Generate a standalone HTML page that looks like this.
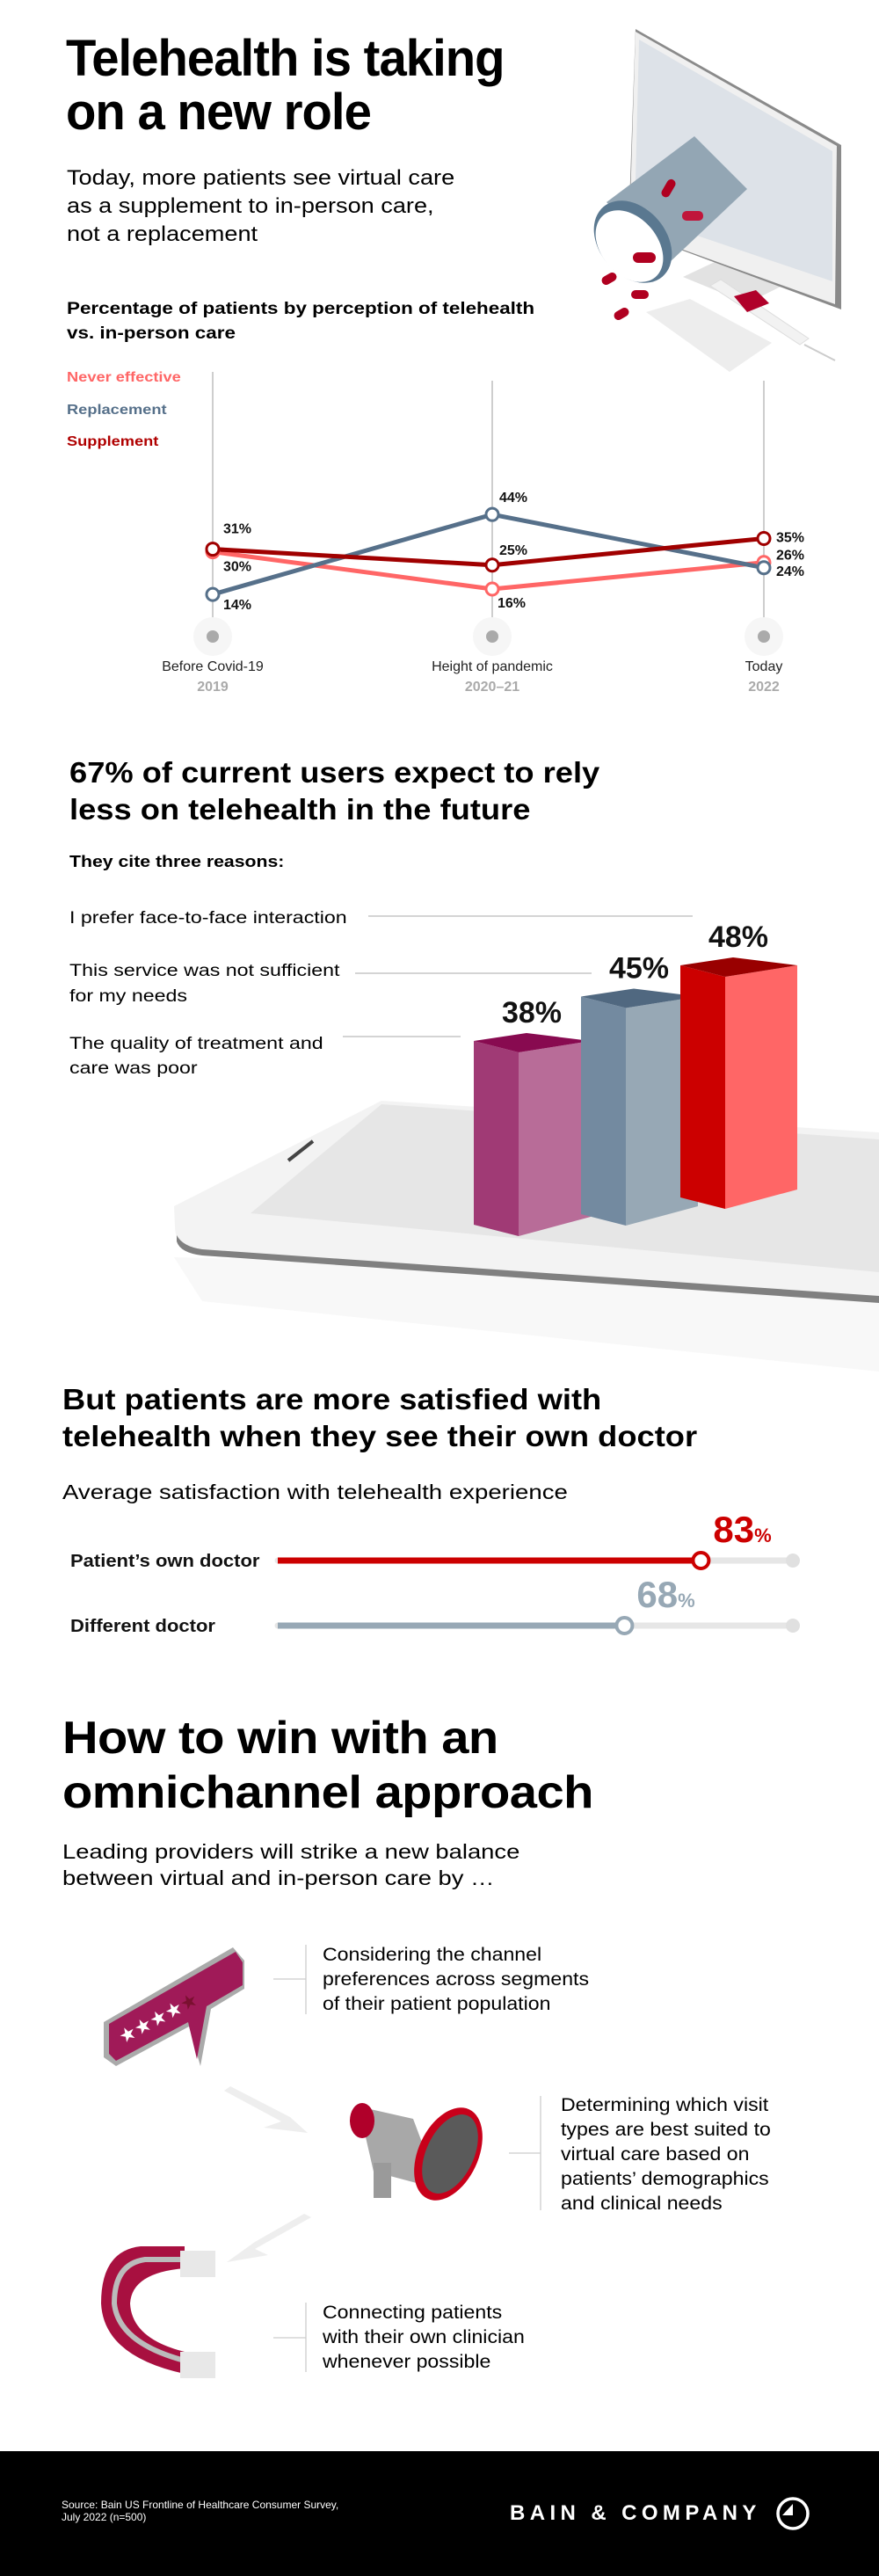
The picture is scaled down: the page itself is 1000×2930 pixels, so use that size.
<!DOCTYPE html>
<html><head><meta charset="utf-8"><style>
*{margin:0;padding:0;box-sizing:border-box}
body{width:1000px;height:2930px;position:relative;background:#fff;font-family:"Liberation Sans",sans-serif;color:#000;overflow:hidden}
.a{position:absolute;white-space:nowrap;transform-origin:0 0}
svg{position:absolute;left:0;top:0}
</style></head><body>

<svg width="1000" height="2930">
 <g>
  <polygon points="777,315 830,290 900,320 850,345" fill="#e2e2e2"/>
  <polygon points="723,33 957,165 957,352 715,262" fill="#8a8a8a"/>
  <polygon points="723,36 952,166 950,346 716,262" fill="#f0f0f0"/>
  <polygon points="727,45 947,172 947,320 722,244" fill="#dde2e8"/>
  <polygon points="690,230 790,155 850,215 760,300" fill="#93a6b4"/>
  <ellipse cx="720" cy="275" rx="38" ry="52" transform="rotate(-40 720 275)" fill="#5a7890"/>
  <ellipse cx="716" cy="280" rx="32" ry="46" transform="rotate(-40 716 280)" fill="#fff"/>
  <rect x="720" y="287" width="26" height="12" rx="6" fill="#b00020"/>
  <rect x="750" y="210" width="22" height="10" rx="5" fill="#b00020" transform="rotate(-60 760 215)"/>
  <rect x="776" y="240" width="24" height="11" rx="5" fill="#c0153a"/>
  <rect x="718" y="330" width="20" height="10" rx="5" fill="#b00020"/>
  <rect x="698" y="352" width="18" height="10" rx="5" fill="#b00020" transform="rotate(-30 707 357)"/>
  <rect x="684" y="312" width="18" height="10" rx="5" fill="#b00020" transform="rotate(-30 693 317)"/>
  <polygon points="735,355 785,340 878,390 830,423" fill="#ededed"/>
  <polygon points="808,325 820,318 920,385 910,392" fill="#f2f2f2" stroke="#ddd"/>
  <polygon points="835,337 860,330 875,345 850,355" fill="#b0002a"/>
  <line x1="915" y1="392" x2="950" y2="410" stroke="#ccc" stroke-width="2"/>
 </g>
 <g>
  <polygon points="198,1430 230,1480 1000,1560 1000,1450" fill="#f8f8f8"/>
  <path d="M434,1252 L1000,1288 L1000,1480 L230,1428 Q200,1425 199,1395 L198,1372 Z" fill="#f3f3f3"/>
  <polygon points="434,1256 1000,1296 1000,1447 285,1380" fill="#e6e6e6"/>
  <path d="M201,1412 Q205,1425 230,1428 L1000,1482 L1000,1474 L230,1421 Q208,1418 201,1405 Z" fill="#808080"/>
  <line x1="328" y1="1320" x2="356" y2="1298" stroke="#444" stroke-width="4"/>
 </g>
 <g>
  <polygon points="118,2300 265,2215 278,2230 278,2262 240,2285 228,2350 215,2305 132,2350 118,2340" fill="#aaa"/>
  <polygon points="124,2302 268,2220 276,2232 276,2258 235,2282 224,2342 214,2300 132,2344 124,2336" fill="#a01a58"/>
  <text x="140" y="2325" font-size="22" fill="#fff" transform="rotate(-28 140 2325)" font-family="DejaVu Sans">★★★★<tspan fill="#7a1030">★</tspan></text>
 </g>
 <g fill="#eeeeee">
  <polygon points="255,2378 262,2373 330,2408 350,2426 300,2420 320,2413"/>
 </g>
 <g>
  <polygon points="408,2396 470,2410 500,2490 425,2470" fill="#a8a8a8"/>
  <rect x="425" y="2460" width="20" height="40" fill="#9a9a9a"/>
  <ellipse cx="412" cy="2412" rx="14" ry="20" fill="#b0002a"/>
  <ellipse cx="510" cy="2450" rx="34" ry="56" transform="rotate(25 510 2450)" fill="#c8001a"/>
  <ellipse cx="512" cy="2450" rx="27" ry="48" transform="rotate(25 512 2450)" fill="#5a5a5a"/>
 </g>
 <g fill="#eeeeee">
  <polygon points="354,2522 346,2518 290,2550 258,2573 305,2565 290,2558"/>
 </g>
 <g>
  <path d="M210,2555 L160,2555 Q115,2560 115,2620 Q118,2680 210,2700 L210,2675 Q150,2660 148,2620 Q150,2585 210,2580 Z" fill="#a81040"/>
  <path d="M210,2570 L165,2570 Q130,2575 130,2620 Q135,2665 210,2685" fill="none" stroke="#bbb" stroke-width="6"/>
  <rect x="205" y="2560" width="40" height="30" fill="#e8e8e8"/>
  <rect x="205" y="2675" width="40" height="30" fill="#e8e8e8"/>
 </g>
 <g stroke="#ccc" stroke-width="1.3">
  <line x1="348" y1="2212" x2="348" y2="2291"/><line x1="311" y1="2251" x2="348" y2="2251"/>
  <line x1="615" y1="2384" x2="615" y2="2514"/><line x1="579" y1="2449" x2="615" y2="2449"/>
  <line x1="348" y1="2619" x2="348" y2="2698"/><line x1="311" y1="2659" x2="348" y2="2659"/>
 </g>
 <g stroke="#bbb" stroke-width="1.2">
  <line x1="419" y1="1042" x2="788" y2="1042"/>
  <line x1="404" y1="1107" x2="673" y2="1107"/>
  <line x1="390" y1="1179" x2="524" y2="1179"/>
 </g>
 <g id="line-chart"></g>
 <g id="bar-chart"></g>
 <g id="sat-chart"></g>
 <rect x="0" y="2788" width="1000" height="142" fill="#000"/>
 <circle cx="902" cy="2859" r="17" fill="none" stroke="#fff" stroke-width="3.5"/>
 <polygon points="902,2848 902,2861 890,2861" fill="#fff"/>
</svg>

<div class="a" style="left:75px;top:36px;font-size:58px;font-weight:bold;line-height:61px;letter-spacing:-1px;transform:scaleX(0.97)">Telehealth is taking<br>on a new role</div>
<div class="a" style="left:76px;top:187px;font-size:24px;line-height:32px;transform:scaleX(1.13)">Today, more patients see virtual care<br>as a supplement to in-person care,<br>not a replacement</div>
<div class="a" style="left:76px;top:337px;font-size:19.5px;font-weight:bold;line-height:28px;transform:scaleX(1.15)">Percentage of patients by perception of telehealth<br>vs. in-person care</div>
<div class="a" style="left:76px;top:421px;font-size:16px;font-weight:bold;color:#ff6666;transform:scaleX(1.14)">Never effective</div>
<div class="a" style="left:76px;top:458px;font-size:16px;font-weight:bold;color:#56708a;transform:scaleX(1.14)">Replacement</div>
<div class="a" style="left:76px;top:494px;font-size:16px;font-weight:bold;color:#b00000;transform:scaleX(1.14)">Supplement</div>

<div class="a" style="left:79px;top:858px;font-size:33px;font-weight:bold;line-height:42px;transform:scaleX(1.1)">67% of current users expect to rely<br>less on telehealth in the future</div>
<div class="a" style="left:79px;top:970px;font-size:18px;font-weight:bold;transform:scaleX(1.18)">They cite three reasons:</div>
<div class="a" style="left:79px;top:1030px;font-size:19px;line-height:29px;transform:scaleX(1.22)">I prefer face-to-face interaction</div>
<div class="a" style="left:79px;top:1090px;font-size:19px;line-height:29px;transform:scaleX(1.22)">This service was not sufficient<br>for my needs</div>
<div class="a" style="left:79px;top:1174px;font-size:19px;line-height:28px;transform:scaleX(1.22)">The quality of treatment and<br>care was poor</div>

<div class="a" style="left:71px;top:1571px;font-size:33px;font-weight:bold;line-height:42px;transform:scaleX(1.1)">But patients are more satisfied with<br>telehealth when they see their own doctor</div>
<div class="a" style="left:71px;top:1684px;font-size:23px;transform:scaleX(1.2)">Average satisfaction with telehealth experience</div>

<div class="a" style="left:71px;top:1946px;font-size:52px;font-weight:bold;line-height:62px;letter-spacing:-0.5px;transform:scaleX(1.08)">How to win with an<br>omnichannel approach</div>
<div class="a" style="left:71px;top:2091px;font-size:23px;line-height:30px;transform:scaleX(1.19)">Leading providers will strike a new balance<br>between virtual and in-person care by …</div>
<div class="a" style="left:367px;top:2210px;font-size:21px;line-height:28px;transform:scaleX(1.1)">Considering the channel<br>preferences across segments<br>of their patient population</div>
<div class="a" style="left:638px;top:2381px;font-size:21px;line-height:28px;transform:scaleX(1.1)">Determining which visit<br>types are best suited to<br>virtual care based on<br>patients’ demographics<br>and clinical needs</div>
<div class="a" style="left:367px;top:2617px;font-size:21px;line-height:28px;transform:scaleX(1.1)">Connecting patients<br>with their own clinician<br>whenever possible</div>

<div class="a" style="left:70px;top:2842px;font-size:12px;line-height:14px;color:#fff">Source: Bain US Frontline of Healthcare Consumer Survey,<br>July 2022 (n=500)</div>
<div class="a" style="left:580px;top:2845px;font-size:24px;font-weight:bold;color:#fff;letter-spacing:5.4px">BAIN &amp; COMPANY</div>

<script>
const NS="http://www.w3.org/2000/svg";
// ---- line chart data ----
const periods=["Before Covid-19","Height of pandemic","Today"];
const years=["2019","2020–21","2022"];
const neverEffective=[30,16,26];
const replacement=[14,44,24];
const supplement=[31,25,35];
// ---- bar chart data ----
const reasons=["The quality of treatment and care was poor","This service was not sufficient for my needs","I prefer face-to-face interaction"];
const reasonValues=[38,45,48];
// ---- satisfaction data ----
const satCategories=["Patient’s own doctor","Different doctor"];
const satValues=[83,68];

function mk(tag,attrs,parent){const e=document.createElementNS(NS,tag);for(const k in attrs)e.setAttribute(k,attrs[k]);parent.appendChild(e);return e;}

const lc=document.getElementById('line-chart');
const xs=[242,560,869];
const yv=v=>718.5-3.03*v;
periods.forEach((p,i)=>{
  const l=mk('line',{x1:xs[i],y1:i?433:423,x2:xs[i],y2:724,stroke:'#bdbdbd','stroke-width':1.5},lc);
  
  
  mk('circle',{cx:xs[i],cy:724,r:22,fill:'#f6f6f6'},lc);
  const d=mk('circle',{cx:xs[i],cy:724,r:7,fill:'#aaa'},lc);
  
  
  const t=mk('text',{x:xs[i],y:763,'text-anchor':'middle','font-size':16,fill:'#222'},lc);
  t.textContent=p;
  
  
  const y=mk('text',{x:xs[i],y:786,'text-anchor':'middle','font-size':16,'font-weight':'bold',fill:'#aaa'},lc);
  y.textContent=years[i];
  
  
});
const series=[[neverEffective,'#ff6666','never-effective'],[replacement,'#56708a','replacement'],[supplement,'#a00000','supplement']];
const labOff={"never-effective":[[12,22],[6,21],[14,-3]],"replacement":[[12,17],[8,-14],[14,9]],"supplement":[[12,-18],[8,-12],[14,4]]};
series.forEach(([vals,col,nm])=>{
  const pl=mk('polyline',{points:vals.map((v,i)=>xs[i]+','+yv(v)).join(' '),fill:'none',stroke:col,'stroke-width':5,'stroke-linejoin':'round'},lc);
  
  
});
series.forEach(([vals,col,nm])=>{
  vals.forEach((v,i)=>{
    const c=mk('circle',{cx:xs[i],cy:yv(v),r:7,fill:'#fff',stroke:col,'stroke-width':3},lc);
    
    
    const o=labOff[nm][i];
    const t=mk('text',{x:xs[i]+o[0],y:yv(v)+o[1],'font-size':16,'font-weight':'bold',fill:'#111'},lc);
    t.textContent=v+'%';
    
    
  });
});

const bc=document.getElementById('bar-chart');
const barX=[539,661,774];
const barBottom=[1396,1384,1365];
const cols=[['#a03a75','#b86c98','#880a50'],['#738aa0','#97a8b5','#506880'],['#cc0000','#ff6666','#990000']];
const hs=5.5;
reasonValues.forEach((v,i)=>{
  const x0=barX[i],xm=x0+51,x1=x0+133,b=barBottom[i],h=v*hs,top=b-h;
  const g=mk('g',{},bc);
  
  
  mk('polygon',{points:`${x0},${top-3} ${xm},${top+10} ${xm},${b+10} ${x0},${b-3}`,fill:cols[i][0]},g);
  mk('polygon',{points:`${xm},${top+10} ${x1},${top-3} ${x1},${b-12} ${xm},${b+10}`,fill:cols[i][1]},g);
  mk('polygon',{points:`${x0},${top-3} ${x0+60},${top-12} ${x1},${top-3} ${xm},${top+10}`,fill:cols[i][2]},g);
  const t=mk('text',{x:x0+66,y:top-24,'text-anchor':'middle','font-size':34,'font-weight':'bold',fill:'#111'},bc);
  t.textContent=v+'%';
  
  
});

const sc=document.getElementById('sat-chart');
const sx=v=>316+5.8*v;
const rowY=[1775,1849];
const sCol=['#cc0000','#97a8b5'];
satValues.forEach((v,i)=>{
  const y=rowY[i];
  mk('line',{x1:316,y1:y,x2:sx(100)+6,y2:y,stroke:'#e6e6e6','stroke-width':7,'stroke-linecap':'round'},sc);
  mk('circle',{cx:sx(100)+6,cy:y,r:8,fill:'#e0e0e0'},sc);
  const b=mk('line',{x1:316,y1:y,x2:sx(v),y2:y,stroke:sCol[i],'stroke-width':7},sc);
  
  
  mk('circle',{cx:sx(v),cy:y,r:9,fill:'#fff',stroke:sCol[i],'stroke-width':4},sc);
  const lab=mk('text',{x:80,y:y+7,'font-size':20,'font-weight':'bold',fill:'#111',transform:`translate(80 0) scale(1.1 1) translate(-80 0)`},sc);
  lab.textContent=satCategories[i];
  
  
  const t=mk('text',{x:sx(v)+14,y:y-21,'font-size':42,'font-weight':'bold',fill:i?'#97a8b5':'#cc0000'},sc);
  t.textContent=v;
  const ts=mk('tspan',{'font-size':22},t);ts.textContent='%';
  
  
});
</script>
</body></html>
